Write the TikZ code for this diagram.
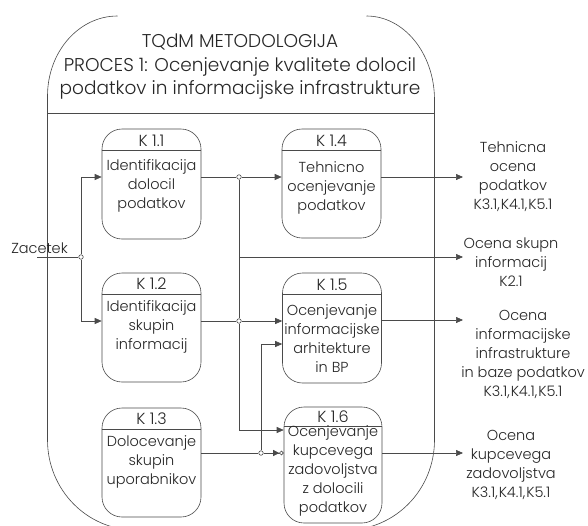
\documentclass[tikz,border=0pt]{standalone}
\usepackage{fontspec}
\setmainfont{Poppins}[UprightFont={* Light}]
\usetikzlibrary{arrows.meta}
\definecolor{ink}{HTML}{262626}
\definecolor{wire}{HTML}{4A4A4A}
\newcommand{\refsep}{,\kern1pt}
\tikzset{
  wireline/.style={draw=wire, line width=0.6pt},
  kbox/.style={wireline, rounded corners=20pt, minimum width=99pt, minimum height=110pt, inner sep=0pt},
  klabel/.style={text=ink, font=\fontsize{16}{17}\selectfont, inner sep=0pt},
  ktext/.style={text=ink, align=center, font=\fontsize{14.5}{19}\selectfont, inner sep=0pt},
  headtext/.style={text=ink, align=center, font=\fontsize{18.5}{23.5}\selectfont, inner sep=0pt},
  flow/.style={wireline, -{Triangle[length=7pt,width=6pt]}},
  flowdot/.style={wireline, -{Triangle[length=6pt,width=6pt] Circle[length=4.5pt, fill=white]}},
  junction/.style={circle, draw=wire, fill=white, line width=0.6pt, inner sep=0pt, minimum size=4.5pt},
}
\begin{document}
\begin{tikzpicture}[x=1pt, y=-1pt]
\useasboundingbox (0,0) rectangle (588,525);
\clip (0,0) rectangle (588,525);

% process frame with its title band
\draw[wireline] (47.5,96) .. controls (47.5,51.8) and (78.8,16) .. (117.5,16);
\draw[wireline] (434.5,100) .. controls (434.5,53.6) and (404.1,16) .. (366.5,16);
\draw[wireline] (47.5,96) -- (47.5,440) .. controls (47.5,489.7) and (86.9,530) .. (135.5,530);
\draw[wireline] (434.5,100) -- (434.5,440) .. controls (434.5,489.7) and (395.1,530) .. (346.5,530);
\draw[wireline] (47.5,113) -- (434.5,113);
\node[headtext] (head) at (240,67) {TQdM METODOLOGIJA\\PROCES 1: Ocenjevanje kvalitete dolocil\\podatkov in informacijske infrastrukture};

% process boxes
\node[kbox] (k11) at (151.5,184) {};
\node[kbox, minimum height=109pt] (k12) at (151.5,327.5) {};
\node[kbox, minimum height=109pt] (k13) at (151.5,462.5) {};
\node[kbox, minimum height=109pt] (k14) at (331.5,183.5) {};
\node[kbox] (k15) at (332,328) {};
\node[kbox, minimum width=98pt, minimum height=116pt] (k16) at (333,465) {};
\foreach \b in {k11,k12,k13,k14,k15}
  \draw[wireline] ([yshift=-22pt]\b.north west) -- ([yshift=-22pt]\b.north east);
\draw[wireline] ([yshift=-20pt]k16.north west) -- ([yshift=-20pt]k16.north east);

\node[klabel] (l11) at (151.5,141) {K 1.1};
\node[klabel] (l12) at (151.5,284) {K 1.2};
\node[klabel] (l13) at (151.5,419) {K 1.3};
\node[klabel] (l14) at (331.5,141) {K 1.4};
\node[klabel] (l15) at (332,285) {K 1.5};
\node[klabel] (l16) at (333,417) {K 1.6};

\node[ktext] (t11) at (151.5,186) {Identifikacija\\dolocil\\podatkov};
\node[ktext] (t12) at (151.5,326.5) {Identifikacija\\skupin\\informacij};
\node[ktext] (t13) at (151.5,461.5) {Dolocevanje\\skupin\\uporabnikov};
\node[ktext] (t14) at (331.5,188) {Tehnicno\\ocenjevanje\\podatkov};
\node[ktext] (t15) at (332,339) {Ocenjevanje\\informacijske\\arhitekture\\in BP};
\node[ktext] (t16) at (333,471) {Ocenjevanje\\kupcevega\\zadovoljstva\\z dolocili\\podatkov};

% start and outputs
\node[ktext] (start) at (39.5,248) {Zacetek};
\node[ktext] (o1) at (513,177) {Tehnicna\\ocena\\podatkov\\K3.1\refsep K4.1\refsep K5.1};
\node[ktext] (o2) at (511,262) {Ocena skupn\\informacij\\K2.1};
\node[ktext] (o3) at (523,354) {Ocena\\informacijske\\infrastrukture\\in baze podatkov\\K3.1\refsep K4.1\refsep K5.1};
\node[ktext] (o4) at (511,465) {Ocena\\kupcevega\\zadovoljstva\\K3.1\refsep K4.1\refsep K5.1};

% junction points
\coordinate (zs) at (37,257);
\node[junction] (z0) at (81,257) {};
\node[junction] (j1) at (239,177) {};
\node[junction] (j2) at (239,321) {};
\node[junction] (j3) at (261,453) {};
\coordinate (b1) at (239,257);
\coordinate (e1) at (463,177);
\coordinate (e2) at (463,257);
\coordinate (e3) at (463,320);
\coordinate (e4) at (463,453);
\coordinate (y16a) at (0,430);
\coordinate (y15b) at (0,344);

% flows
\draw[wireline] (zs) -- (z0);
\draw[flow] (z0) |- (k11.west |- j1);
\draw[flow] (z0) |- (k12.west |- j2);
\draw[wireline] (k11.east |- j1) -- (j1);
\draw[flow] (j1) -- (k14.west |- j1);
\draw[flow] (k14.east |- j1) -- (e1);
\draw[wireline] (j1) -- (j2);
\draw[flow] (j2) |- (k16.west |- y16a);
\draw[flow] (b1) -- (e2);
\draw[wireline] (k12.east |- j2) -- (j2);
\draw[flow] (j2) -- (k15.west |- j2);
\draw[flow] (k15.east |- e3) -- (e3);
\draw[wireline] (k13.east |- j3) -- (j3);
\draw[flowdot] (j3) -- (k16.west |- j3);
\draw[flow] (j3) |- (k15.west |- y15b);
\draw[flow] (k16.east |- j3) -- (e4);
\end{tikzpicture}
\end{document}
